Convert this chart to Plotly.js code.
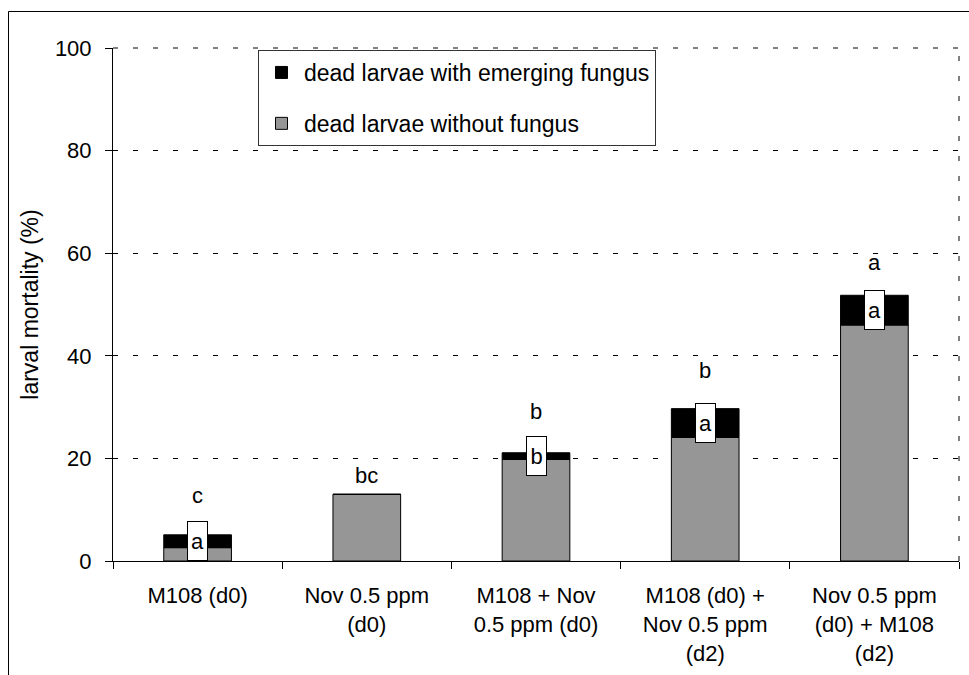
<!DOCTYPE html>
<html>
<head>
<meta charset="utf-8">
<script src="https://cdn.plot.ly/plotly-3.0.1.min.js"></script>
<style>
  html, body { margin: 0; padding: 0; background: #fff; }
  #chart { width: 969px; height: 675px; }
</style>
</head>
<body>
<div id="chart"></div>
<script>
// Treatments (x categories)
const treatments = [
  'M108 (d0)',
  'Nov 0.5 ppm<br>(d0)',
  'M108 + Nov<br>0.5 ppm (d0)',
  'M108 (d0) +<br>Nov 0.5 ppm<br>(d2)',
  'Nov 0.5 ppm<br>(d0) + M108<br>(d2)'
];

// Larval mortality (%) split by fungal emergence
const withoutFungus = [2.6, 13.0, 19.8, 24.1, 46.0];
const withFungus    = [2.5, 0, 1.3, 5.6, 5.8];

// Significance letters: total mortality (above bars) and mycosis (boxed)
const totalLetters  = ['c', 'bc', 'b', 'b', 'a'];
const fungusLetters = ['a', '', 'b', 'a', 'a'];

// Heights (% axis units) at which the total-mortality letters sit
const totalLetterY = [12.8, 16.6, 29.2, 37.2, 58.2];

const W = 969, H = 675;
const margin = { l: 113, r: 10, t: 48, b: 114, pad: 0 };
const plotW = W - margin.l - margin.r;
const plotH = H - margin.t - margin.b;
const pxX = px => (px - margin.l) / plotW;
const pxY = py => (H - margin.b - py) / plotH;

const FONT = 'Liberation Sans, Arial, Helvetica, sans-serif';
const GRID_DASH = '5px,15px';

const traces = [
  {
    type: 'bar',
    name: 'dead larvae without fungus',
    x: treatments,
    y: withoutFungus,
    marker: { color: '#969696', line: { color: '#000', width: 1 } },
    width: 0.4,
    legendrank: 2,
    legendgroup: 'g2',
    hoverinfo: 'skip'
  },
  {
    type: 'bar',
    name: 'dead larvae with emerging fungus',
    x: treatments,
    y: withFungus,
    base: withoutFungus,
    marker: { color: '#000', line: { color: '#000', width: 1 } },
    width: 0.4,
    legendrank: 1,
    legendgroup: 'g1',
    hoverinfo: 'skip'
  }
];

const annotations = [];
treatments.forEach((t, i) => {
  annotations.push({
    x: t, y: totalLetterY[i], xref: 'x', yref: 'y',
    text: totalLetters[i], showarrow: false,
    font: { family: FONT, size: 22, color: '#000' },
    xanchor: 'center', yanchor: 'middle'
  });
  if (fungusLetters[i]) {
    annotations.push({
      x: t, y: withoutFungus[i] + withFungus[i] / 2, xref: 'x', yref: 'y',
      text: fungusLetters[i], showarrow: false,
      font: { family: FONT, size: 22, color: '#000' },
      bgcolor: '#fff', bordercolor: '#000', borderwidth: 1, borderpad: 0,
      width: 19, height: 38,
      xanchor: 'center', yanchor: 'middle'
    });
  }
});

const shapes = [
  // dashed top and right edges of the plotting area
  { type: 'line', xref: 'paper', yref: 'paper', x0: 0, x1: 1, y0: 1, y1: 1,
    line: { color: '#000', width: 1, dash: GRID_DASH } },
  { type: 'line', xref: 'paper', yref: 'paper', x0: 1, x1: 1, y0: 0, y1: 1,
    line: { color: '#000', width: 1, dash: GRID_DASH } },
  // outer frame (left and top edges)
  { type: 'line', xref: 'paper', yref: 'paper', x0: pxX(8.5), x1: pxX(8.5), y0: pxY(11.5), y1: pxY(H + 5),
    line: { color: '#000', width: 1 } },
  { type: 'line', xref: 'paper', yref: 'paper', x0: pxX(8.5), x1: pxX(W + 5), y0: pxY(11.5), y1: pxY(11.5),
    line: { color: '#000', width: 1 } }
];

const layout = {
  width: W, height: H,
  margin: margin,
  paper_bgcolor: '#fff',
  plot_bgcolor: '#fff',
  font: { family: FONT, size: 22, color: '#000' },
  barmode: 'overlay',
  showlegend: true,
  legend: {
    x: pxX(258), y: pxY(50), xanchor: 'left', yanchor: 'top',
    bgcolor: '#fff', bordercolor: '#333', borderwidth: 1,
    font: { family: FONT, size: 23, color: '#000' },
    itemwidth: 35,
    tracegroupgap: 18,
    traceorder: 'grouped'
  },
  xaxis: {
    type: 'category',
    range: [-0.5, 4.5],
    showgrid: false,
    showline: true, linecolor: '#000', linewidth: 1,
    ticks: 'outside', ticklen: 7, tickcolor: '#000', tickwidth: 1,
    tickson: 'boundaries',
    tickfont: { family: FONT, size: 22, color: '#000' },
    ticklabelstandoff: 15,
    fixedrange: true
  },
  yaxis: {
    range: [0, 100],
    tickvals: [0, 20, 40, 60, 80, 100],
    showgrid: true, gridcolor: '#000', gridwidth: 1, griddash: GRID_DASH,
    zeroline: false,
    showline: true, linecolor: '#000', linewidth: 1,
    ticks: 'outside', ticklen: 7, tickcolor: '#000', tickwidth: 1,
    tickfont: { family: FONT, size: 22, color: '#000' },
    ticklabelstandoff: 9,
    title: { text: 'larval mortality (%)', font: { family: FONT, size: 23, color: '#000' }, standoff: 9 },
    fixedrange: true
  },
  annotations: annotations,
  shapes: shapes
};

Plotly.newPlot('chart', traces, layout, { displayModeBar: false, staticPlot: true });
</script>
</body>
</html>
